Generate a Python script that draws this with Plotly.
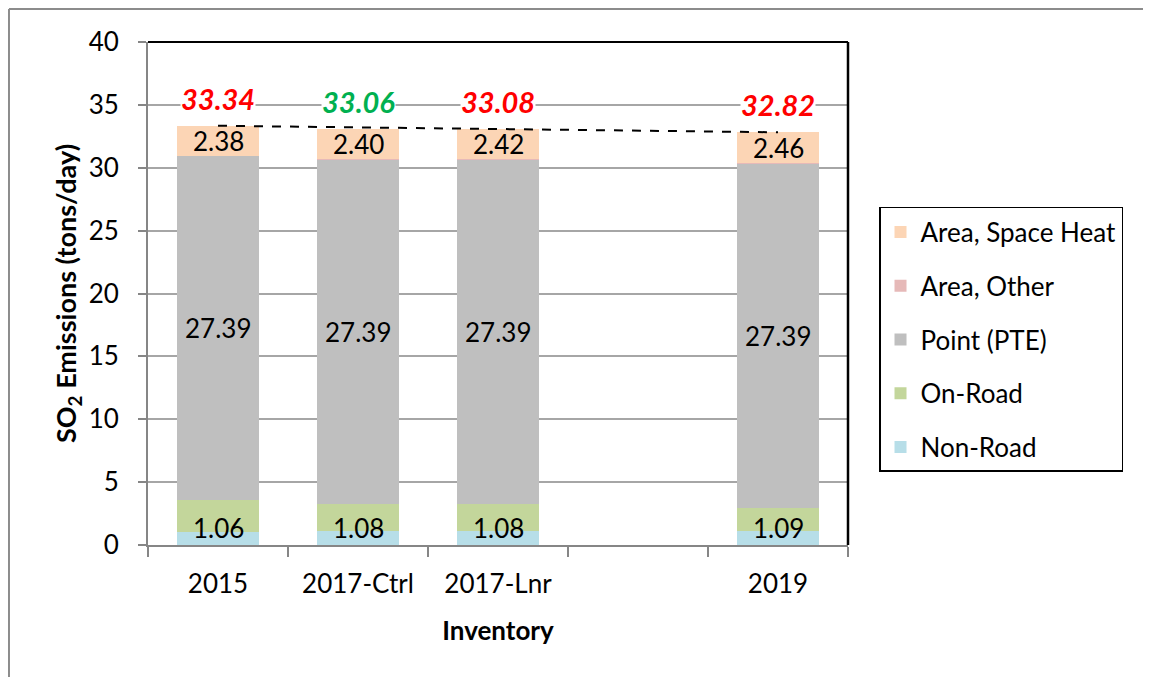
"""SO2 emissions by inventory, stacked by source sector."""

import plotly.graph_objects as go

# categories (one empty slot between 2017-Lnr and 2019)
inventories = ["2015", "2017-Ctrl", "2017-Lnr", "", "2019"]

non_road = [1.06, 1.08, 1.08, None, 1.09]
on_road = [2.50, 2.18, 2.18, None, 1.87]
point_pte = [27.39, 27.39, 27.39, None, 27.39]
area_other = [0.01, 0.01, 0.01, None, 0.01]
area_space_heat = [2.38, 2.40, 2.42, None, 2.46]

total_colors = ["#FF0000", "#00B050", "#FF0000", None, "#FF0000"]

FONT = "Lato, Calibri, sans-serif"
x_pos = list(range(len(inventories)))

series = [
    ("Non-Road", non_road, "#B7DEE8"),
    ("On-Road", on_road, "#C3D69B"),
    ("Point (PTE)", point_pte, "#BFBFBF"),
    ("Area, Other", area_other, "#E6B9B8"),
    ("Area, Space Heat", area_space_heat, "#FCD5B5"),
]

fig = go.Figure()
for rank, (name, values, color) in enumerate(series):
    fig.add_trace(
        go.Bar(
            x=x_pos,
            y=values,
            name=name,
            legendgroup=name,
            legendrank=len(series) - rank,
            marker={"color": color, "line": {"width": 0}},
            width=0.59,
            hoverinfo="skip",
        )
    )

totals = []
for i in x_pos:
    if non_road[i] is None:
        totals.append(None)
        continue
    totals.append(
        round(non_road[i] + on_road[i] + point_pte[i] + area_other[i] + area_space_heat[i], 2)
    )

# dashed reference line from the first to the last total
filled = [i for i in x_pos if totals[i] is not None]
fig.add_trace(
    go.Scatter(
        x=[filled[0], filled[-1]],
        y=[totals[filled[0]], totals[filled[-1]]],
        mode="lines",
        line={"color": "black", "width": 2, "dash": "dash"},
        showlegend=False,
        hoverinfo="skip",
    )
)

label_font = {"family": FONT, "size": 26, "color": "black"}
for i in filled:
    # non-road label sits on the axis, like Excel keeps it inside the plot
    fig.add_annotation(
        x=i, y=0, text=f"{non_road[i]:.2f}", showarrow=False,
        yanchor="bottom", yshift=-1, font=label_font,
    )
    base = non_road[i] + on_road[i]
    fig.add_annotation(
        x=i, y=base + point_pte[i] / 2, text=f"{point_pte[i]:.2f}",
        showarrow=False, font=label_font,
    )
    base += point_pte[i] + area_other[i]
    fig.add_annotation(
        x=i, y=base + area_space_heat[i] / 2, text=f"{area_space_heat[i]:.2f}",
        showarrow=False, font=label_font,
    )
    fig.add_annotation(
        x=i, y=totals[i], text=f"<b><i>{totals[i]:.2f}</i></b>",
        showarrow=False, yanchor="bottom", yshift=9,
        bgcolor="white", borderpad=0,
        font={"family": FONT, "size": 29, "color": total_colors[i]},
    )

# black frame on top and right of the plot area
fig.add_shape(type="line", xref="paper", yref="paper", x0=0, x1=1, y0=1, y1=1,
              line={"color": "black", "width": 2})
fig.add_shape(type="line", xref="paper", yref="paper", x0=1, x1=1, y0=0, y1=1,
              line={"color": "black", "width": 2.5})
# outer chart border (left and top)
fig.add_shape(type="line", xref="paper", yref="paper", x0=-0.1986, x1=1.5,
              y0=1.0656, y1=1.0656, line={"color": "#8C8C8C", "width": 2})
fig.add_shape(type="line", xref="paper", yref="paper", x0=-0.1986, x1=-0.1986,
              y0=-0.3, y1=1.0656, line={"color": "#8C8C8C", "width": 2})

fig.update_layout(
    width=1143,
    height=669,
    barmode="stack",
    bargap=0,
    plot_bgcolor="white",
    paper_bgcolor="white",
    margin={"l": 140, "r": 303, "t": 34, "b": 132},
    font={"family": FONT, "size": 26, "color": "black"},
    showlegend=True,
    legend={
        "x": 1.0443,
        "y": 0.672,
        "xanchor": "left",
        "yanchor": "top",
        "traceorder": "grouped",
        "tracegroupgap": 17,
        "bordercolor": "black",
        "borderwidth": 1.5,
        "font": {"family": FONT, "size": 26, "color": "black"},
        "itemclick": False,
    },
    xaxis={
        "range": [-0.5, len(inventories) - 0.5],
        "tickmode": "array",
        "tickvals": x_pos,
        "ticktext": inventories,
        "ticks": "outside",
        "ticklen": 0,
        "showgrid": False,
        "zeroline": False,
        "showline": True,
        "linecolor": "#868686",
        "linewidth": 2,
        "ticklabelstandoff": 15,
        "minor": {
            "tickvals": [i - 0.5 for i in range(len(inventories) + 1)],
            "ticks": "outside",
            "ticklen": 10,
            "tickwidth": 2,
            "tickcolor": "#868686",
        },
        "title": {"text": "<b>Inventory</b>", "standoff": 24,
                  "font": {"family": FONT, "size": 26}},
        "fixedrange": True,
    },
    yaxis={
        "range": [0, 40],
        "dtick": 5,
        "tick0": 0,
        "ticks": "outside",
        "ticklen": 8,
        "tickwidth": 2,
        "tickcolor": "#868686",
        "showgrid": True,
        "gridcolor": "#A6A6A6",
        "gridwidth": 2,
        "zeroline": False,
        "showline": True,
        "linecolor": "#868686",
        "linewidth": 2,
        "ticklabelstandoff": 14,
        "title": {"text": "<b>SO<sub>2</sub> Emissions (tons/day)</b>",
                  "standoff": 4, "font": {"family": FONT, "size": 27}},
        "fixedrange": True,
    },
)

fig.write_html("out.html")
